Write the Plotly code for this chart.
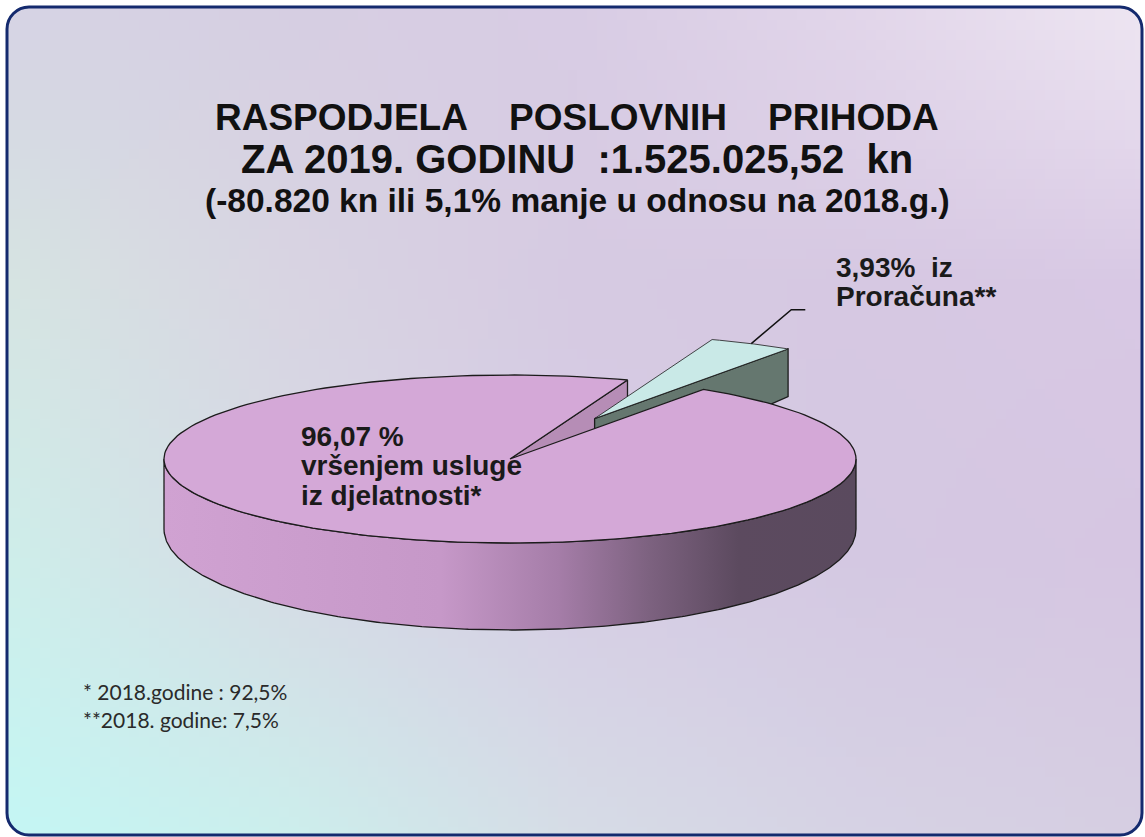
import numpy as np
import plotly.graph_objects as go

# ---------------- data ----------------
slice_names = ["vršenjem usluge iz djelatnosti*", "iz Proračuna**"]
slice_values = [96.07, 3.93]
big_label_lines = ["96,07 %", "vršenjem usluge", "iz djelatnosti*"]
small_label_lines = ["3,93%\u00a0\u00a0iz", "Proračuna**"]
title_lines = [
    "RASPODJELA\u00a0\u00a0\u00a0\u00a0POSLOVNIH\u00a0\u00a0\u00a0\u00a0PRIHODA",
    "ZA 2019. GODINU\u00a0\u00a0:1.525.025,52\u00a0\u00a0kn",
    "(-80.820 kn ili 5,1% manje u odnosu na 2018.g.)",
]
note_lines = ["* 2018.godine : 92,5%", "**2018. godine: 7,5%"]

# ---------------- style / geometry ----------------
W, H = 1145, 837
CX, CY, RX, RY = 510, 459, 346, 84
START_DEG = 56.0          # rotation of first drawn (small) slice
EXPLODE = 0.54            # explosion of small slice (fraction of radius)
FONT = "Liberation Sans, Arial, sans-serif"
EDGE = "#1c1c1c"


def depth(y):
    # pseudo-perspective: walls nearer the viewer look taller
    return 53 + (y - 375) * 0.2024


def rim(c, t):
    return c[0] + RX * np.cos(t), c[1] - RY * np.sin(t)


total = sum(slice_values)
small_span = 2 * np.pi * slice_values[1] / total
a0 = np.radians(START_DEG)
a1 = a0 + small_span
amid = (a0 + a1) / 2
c_big = (CX, CY)
c_small = (CX + EXPLODE * RX * np.cos(amid), CY - EXPLODE * RY * np.sin(amid))

fig = go.Figure()

# background gradient (style only): a few key colours, smoothly upsampled
bg_keys = np.array([
    [[214, 211, 228], [214, 206, 226], [216, 204, 228], [226, 214, 234], [238, 230, 242]],
    [[214, 228, 226], [216, 212, 226], [214, 202, 226], [214, 200, 226], [216, 200, 228]],
    [[206, 238, 234], [214, 218, 228], [214, 204, 228], [212, 200, 226], [214, 198, 226]],
    [[196, 246, 244], [204, 238, 236], [214, 220, 230], [214, 210, 228], [214, 206, 226]],
], dtype=float)


def upsample(g, nr, nc):
    gr, gc = g.shape[0], g.shape[1]
    rr = np.linspace(0, gr - 1, nr)
    cc = np.linspace(0, gc - 1, nc)
    tmp = np.empty((nr, gc, 3))
    for j in range(gc):
        for ch in range(3):
            tmp[:, j, ch] = np.interp(rr, np.arange(gr), g[:, j, ch])
    out = np.empty((nr, nc, 3))
    for i in range(nr):
        for ch in range(3):
            out[i, :, ch] = np.interp(cc, np.arange(gc), tmp[i, :, ch])
    return out.round().astype(np.uint8)


bg = upsample(bg_keys, 84, 115)
nr, nc = bg.shape[0], bg.shape[1]
fig.add_trace(go.Image(z=bg, x0=W / nc / 2, dx=W / nc, y0=H / nr / 2, dy=H / nr,
                       hoverinfo="skip"))


def poly(xs, ys, color, lw=1.3, grad=None):
    kw = dict(x=list(xs) + [xs[0]], y=list(ys) + [ys[0]], mode="lines", fill="toself",
              fillcolor=color, line=dict(color=EDGE, width=lw), hoverinfo="skip",
              showlegend=False)
    if grad is not None:
        kw["fillgradient"] = grad
    fig.add_trace(go.Scatter(**kw))


def cut_face(c, t, color):
    px, py = rim(c, t)
    xs = [c[0], px, px, c[0]]
    ys = [c[1], py, py + depth(py), c[1] + depth(c[1])]
    poly(xs, ys, color)


def top_face(c, s, e, color, lw=1.3):
    ts = np.linspace(s, e, 200)
    px, py = rim(c, ts)
    poly([c[0]] + list(px), [c[1]] + list(py), color, lw)


def outer_side(c, s, e, grad, color):
    ts = np.linspace(s, e, 300)
    px, py = rim(c, ts)
    bx, by = px[::-1], (py + depth(py))[::-1]
    poly(list(px) + list(bx), list(py) + list(by), color, grad=grad)


b0, b1 = a1, a0 + 2 * np.pi
# big slice wall facing the gap (behind the exploded slice)
cut_face(c_big, b0, "#b68db6")
# small (exploded) slice
cut_face(c_small, a0, "#65776f")
top_face(c_small, a0, a1, "#c9e9e7", lw=0.8)
# big slice front wall and top
side_grad = dict(type="horizontal", start=CX - RX, stop=CX + RX, colorscale=[
    [0.0, "rgb(208,162,210)"], [0.40, "rgb(198,152,200)"], [0.57, "rgb(165,125,168)"],
    [0.70, "rgb(125,98,128)"], [0.83, "rgb(92,74,95)"], [1.0, "rgb(90,74,94)"]])
outer_side(c_big, np.pi, 2 * np.pi, side_grad, "#9a7a9c")
top_face(c_big, b0, b1, "#d4a8d7")

# leader line for small slice label
lx, ly = rim(c_small, amid)
fig.add_trace(go.Scatter(x=[lx, lx + 40, lx + 54], y=[ly, ly - 34, ly - 34], mode="lines",
                         line=dict(color="#111", width=1.5), hoverinfo="skip", showlegend=False))

ann = []
title_y = [117, 159, 200]
title_sz = [37, 40, 33.5]
for txt, yy, sz in zip(title_lines, title_y, title_sz):
    ann.append(dict(x=577, y=yy, xref="x", yref="y", text="<b>" + txt + "</b>", showarrow=False,
                    xanchor="center", yanchor="middle", font=dict(family=FONT, size=sz, color="#111")))
for i, txt in enumerate(big_label_lines):
    ann.append(dict(x=299, y=436 + 29.5 * i, xref="x", yref="y", text="<b>" + txt + "</b>",
                    showarrow=False, xanchor="left", yanchor="middle",
                    font=dict(family=FONT, size=28, color="#1a1a1a")))
for i, txt in enumerate(small_label_lines):
    ann.append(dict(x=834, y=267 + 29 * i, xref="x", yref="y", text="<b>" + txt + "</b>",
                    showarrow=False, xanchor="left", yanchor="middle",
                    font=dict(family=FONT, size=28, color="#1a1a1a")))
for i, txt in enumerate(note_lines):
    ann.append(dict(x=81, y=691 + 28 * i, xref="x", yref="y", text=txt, showarrow=False,
                    xanchor="left", yanchor="middle", font=dict(family="Lato, Open Sans, sans-serif",
                                                               size=21, color="#2a2a2a")))

# rounded frame
L, T, R, B, r = 7, 7, 1142, 835, 22
k = 0.5523 * r
rr = (f"M{L+r},{T} H{R-r} C{R-r+k},{T} {R},{T+r-k} {R},{T+r} V{B-r} "
      f"C{R},{B-r+k} {R-r+k},{B} {R-r},{B} H{L+r} C{L+r-k},{B} {L},{B-r+k} {L},{B-r} "
      f"V{T+r} C{L},{T+r-k} {L+r-k},{T} {L+r},{T} Z")
shapes = [
    dict(type="path", xref="x", yref="y", path=f"M0,0 H{W} V{H} H0 Z " + rr, fillrule="evenodd",
         fillcolor="white", line=dict(width=0), layer="above"),
    dict(type="path", xref="x", yref="y", path=rr, line=dict(color="#142a6e", width=3),
         layer="above"),
]

fig.update_layout(
    width=W, height=H, margin=dict(l=0, r=0, t=0, b=0),
    paper_bgcolor="white", plot_bgcolor="white", showlegend=False,
    xaxis=dict(range=[0, W], visible=False, fixedrange=True),
    yaxis=dict(range=[H, 0], visible=False, fixedrange=True),
    annotations=ann, shapes=shapes,
)
fig.write_html("out.html", config={"displayModeBar": False},
               post_script="document.body.style.margin='0px';document.body.style.overflow='hidden';")
